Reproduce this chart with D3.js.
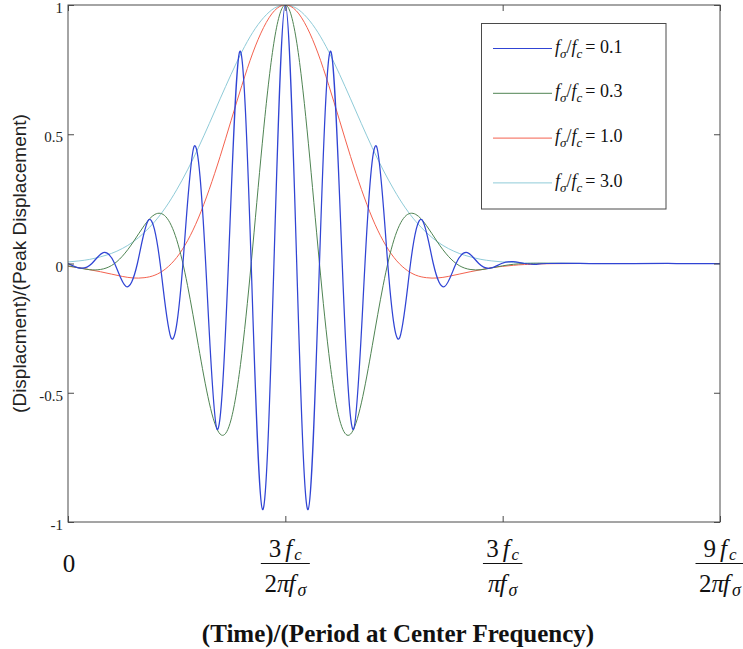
<!DOCTYPE html>
<html>
<head>
<meta charset="utf-8">
<script src="https://cdn.jsdelivr.net/npm/d3@7/dist/d3.min.js"></script>
<style>
  html, body { margin: 0; padding: 0; background: #fff; }
  svg { display: block; }
</style>
</head>
<body>
<svg id="chart" width="743" height="649"></svg>
<script>
// Time axis is in units of 3fc/(2π fσ); each pulse is centred at t = 1.

// Sample times shared by the three slower pulses.
const tSmooth = [
  0.00, 0.05, 0.10, 0.15, 0.20, 0.25, 0.30, 0.35, 0.40, 0.45,
  0.50, 0.55, 0.60, 0.65, 0.70, 0.75, 0.80, 0.85, 0.90, 0.95,
  1.00, 1.05, 1.10, 1.15, 1.20, 1.25, 1.30, 1.35, 1.40, 1.45,
  1.50, 1.55, 1.60, 1.65, 1.70, 1.75, 1.80, 1.85, 1.90, 1.95,
  2.00, 2.05, 2.10, 2.15, 2.20, 2.40, 2.60, 2.80, 3.00
];

// fσ/fc = 0.3
const pulse03 = [
  -0.009, -0.017, -0.024, -0.023, -0.008, 0.028, 0.083, 0.146, 0.190, 0.181,
   0.092, -0.085, -0.318, -0.539, -0.660, -0.605, -0.348, 0.064, 0.517, 0.868,
   1.000, 0.868, 0.517, 0.064, -0.348, -0.605, -0.660, -0.539, -0.318, -0.085,
   0.092, 0.181, 0.190, 0.146, 0.083, 0.028, -0.008, -0.023, -0.024, -0.017,
  -0.009, -0.003, 0.000, 0.001, 0.001, 0.000, 0.000, 0.000, 0.000
];

// fσ/fc = 1.0
const pulse10 = [
  -0.011, -0.016, -0.024, -0.032, -0.041, -0.050, -0.056, -0.055, -0.045, -0.020,
   0.023, 0.088, 0.176, 0.287, 0.414, 0.552, 0.689, 0.814, 0.913, 0.978,
   1.000, 0.978, 0.913, 0.814, 0.689, 0.552, 0.414, 0.287, 0.176, 0.088,
   0.023, -0.020, -0.045, -0.055, -0.056, -0.050, -0.041, -0.032, -0.024, -0.016,
  -0.011, -0.007, -0.004, -0.003, -0.001, 0.000, 0.000, 0.000, 0.000
];

// fσ/fc = 3.0
const pulse30 = [
  0.006, 0.010, 0.016, 0.026, 0.039, 0.058, 0.084, 0.119, 0.163, 0.218,
  0.285, 0.362, 0.448, 0.541, 0.637, 0.731, 0.819, 0.894, 0.951, 0.988,
  1.000, 0.988, 0.951, 0.894, 0.819, 0.731, 0.637, 0.541, 0.448, 0.362,
  0.285, 0.218, 0.163, 0.119, 0.084, 0.058, 0.039, 0.026, 0.016, 0.010,
  0.006, 0.004, 0.002, 0.001, 0.001, 0.000, 0.000, 0.000, 0.000
];

// fσ/fc = 0.1, sampled at its crests, troughs and zero crossings.
const tFast = [
  0.0000, 0.0575, 0.1099, 0.1622, 0.2146, 0.2670, 0.3193, 0.3717, 0.4240, 0.4764,
  0.5288, 0.5811, 0.6335, 0.6858, 0.7382, 0.7906, 0.8429, 0.8953, 0.9476, 1.0000,
  1.0524, 1.1047, 1.1571, 1.2094, 1.2618, 1.3142, 1.3665, 1.4189, 1.4712, 1.5236,
  1.5760, 1.6283, 1.6807, 1.7330, 1.7854, 1.8378, 1.8901, 1.9425, 1.9948, 2.0472,
  2.0995, 2.1519, 2.2043, 2.4000, 2.6000, 2.8000, 3.0000
];
const pulse01 = [
   0.000, -0.018, 0.000, 0.042, 0.000, -0.089, 0.000, 0.169, 0.000, -0.291,
   0.000, 0.454, 0.000, -0.641, 0.000, 0.821, 0.000, -0.952, 0.000, 1.000,
   0.000, -0.952, 0.000, 0.821, 0.000, -0.641, 0.000, 0.454, 0.000, -0.291,
   0.000, 0.169, 0.000, -0.089, 0.000, 0.042, 0.000, -0.018, 0.000, 0.007,
   0.000, -0.003, 0.000, 0.000, 0.000, 0.000, 0.000
];

const ratioLabels = ["0.1", "0.3", "1.0", "3.0"];
const seriesColors = ["#3044d4", "#4f8453", "#f4624f", "#8fcbd8"];

const yTicks = [-1, -0.5, 0, 0.5, 1];
const yTickLabels = ["-1", "-0.5", "0", "0.5", "1"];
const xTicks = [0, 1, 2, 3];
// Tick labels of the form  N fc / (D fσ)
const xTickNumer = ["", "3", "3", "9"];
const xTickDenom = ["", "2π", "π", "2π"];

const svg = d3.select("#chart");
const W = 743, H = 649;
const plot = { left: 68, right: 720, top: 5, bottom: 522 };

const x = d3.scaleLinear().domain([0, 3]).range([plot.left, plot.right]);
const y = d3.scaleLinear().domain([-1, 1]).range([plot.bottom, plot.top]);

const serif = "'Liberation Serif', 'Times New Roman', serif";
const sans = "'Liberation Sans', Arial, sans-serif";
const frameColor = "#4a4a4a";

svg.append("rect").attr("width", W).attr("height", H).attr("fill", "#fff");

svg.append("defs").append("clipPath").attr("id", "plotClip")
  .append("rect")
  .attr("x", plot.left).attr("y", plot.top)
  .attr("width", plot.right - plot.left).attr("height", plot.bottom - plot.top);

// Series assembled from the arrays above
const series = [
  { label: ratioLabels[0], color: seriesColors[0], width: 1.25, pts: tFast.map((t, i) => [t, pulse01[i]]) },
  { label: ratioLabels[1], color: seriesColors[1], width: 1.0, pts: tSmooth.map((t, i) => [t, pulse03[i]]) },
  { label: ratioLabels[2], color: seriesColors[2], width: 1.0, pts: tSmooth.map((t, i) => [t, pulse10[i]]) },
  { label: ratioLabels[3], color: seriesColors[3], width: 1.0, pts: tSmooth.map((t, i) => [t, pulse30[i]]) }
];

const line = d3.line()
  .x(d => x(d[0]))
  .y(d => y(d[1]))
  .curve(d3.curveNatural);

const curves = svg.append("g").attr("clip-path", "url(#plotClip)");
// lighter pulses underneath, the fast pulse drawn last
[3, 2, 1, 0].forEach(i => {
  const s = series[i];
  curves.append("path")
    .attr("d", line(s.pts))
    .attr("fill", "none")
    .attr("stroke", s.color)
    .attr("stroke-width", s.width)
    .attr("stroke-linejoin", "round");
});

// Axes: ticks pointing inward on all four sides
function styleAxis(g) {
  g.select(".domain").remove();
  g.selectAll(".tick line").attr("stroke", frameColor).attr("stroke-width", 1);
}

const leftAxis = svg.append("g")
  .attr("transform", `translate(${plot.left},0)`)
  .call(d3.axisLeft(y).tickValues(yTicks)
    .tickFormat((d, i) => yTickLabels[i])
    .tickSizeInner(-6).tickSizeOuter(0).tickPadding(5))
  .call(styleAxis);
leftAxis.selectAll(".tick text")
  .attr("font-family", serif).attr("font-size", 15)
  .attr("fill", "#222").attr("dy", "0.5em");

svg.append("g")
  .attr("transform", `translate(${plot.right},0)`)
  .call(d3.axisRight(y).tickValues(yTicks).tickFormat("")
    .tickSizeInner(-6).tickSizeOuter(0))
  .call(styleAxis);

svg.append("g")
  .attr("transform", `translate(0,${plot.bottom})`)
  .call(d3.axisBottom(x).tickValues(xTicks).tickFormat("")
    .tickSizeInner(-6).tickSizeOuter(0))
  .call(styleAxis);

svg.append("g")
  .attr("transform", `translate(0,${plot.top})`)
  .call(d3.axisTop(x).tickValues(xTicks).tickFormat("")
    .tickSizeInner(-6).tickSizeOuter(0))
  .call(styleAxis);

// Frame
svg.append("rect")
  .attr("x", plot.left).attr("y", plot.top)
  .attr("width", plot.right - plot.left).attr("height", plot.bottom - plot.top)
  .attr("fill", "none").attr("stroke", frameColor).attr("stroke-width", 1);

// X tick labels: plain zero, then stacked fractions
const xLabels = svg.append("g").attr("fill", "#111").attr("font-family", serif);
xTicks.forEach((t, i) => {
  const cx = x(t);
  if (!xTickNumer[i]) {
    xLabels.append("text")
      .attr("x", cx + 1).attr("y", 572)
      .attr("text-anchor", "middle").attr("font-size", 25)
      .text(String(t));
    return;
  }
  const g = xLabels.append("g");
  const num = g.append("text").attr("x", cx).attr("y", 557)
    .attr("text-anchor", "middle").attr("font-size", 25);
  num.append("tspan").text(xTickNumer[i]);
  num.append("tspan").attr("dx", 4).attr("font-style", "italic").text("f");
  num.append("tspan").attr("dx", 2).attr("dy", 3).attr("font-size", 17).attr("font-style", "italic").text("c");

  const den = g.append("text").attr("x", cx).attr("y", 592)
    .attr("text-anchor", "middle").attr("font-size", 25);
  const d = xTickDenom[i];
  const lead = d.replace("π", "");
  if (lead) den.append("tspan").text(lead);
  den.append("tspan").attr("font-style", "italic").text("π");
  den.append("tspan").attr("dx", -1).attr("font-style", "italic").text("f");
  den.append("tspan").attr("dx", 2).attr("dy", 4).attr("font-size", 18).attr("font-style", "italic").text("σ");

  const w = Math.max(num.node().getBBox().width, den.node().getBBox().width) + 6;
  g.append("line")
    .attr("x1", cx - w / 2).attr("x2", cx + w / 2)
    .attr("y1", 563.5).attr("y2", 563.5)
    .attr("stroke", "#111").attr("stroke-width", 1.2);
});

// Axis titles
svg.append("text")
  .attr("x", (plot.left + plot.right) / 2 + 4).attr("y", 642)
  .attr("text-anchor", "middle")
  .attr("font-family", serif).attr("font-weight", "bold").attr("font-size", 25)
  .attr("fill", "#111")
  .text("(Time)/(Period at Center Frequency)");

svg.append("text")
  .attr("transform", `translate(26,${(plot.top + plot.bottom) / 2}) rotate(-90)`)
  .attr("text-anchor", "middle")
  .attr("font-family", sans).attr("font-size", 19)
  .attr("fill", "#222")
  .text("(Displacment)/(Peak Displacement)");

// Legend
const legend = svg.append("g");
legend.append("rect")
  .attr("x", 481.5).attr("y", 23.5).attr("width", 184.5).attr("height", 185.5)
  .attr("fill", "#fff").attr("stroke", frameColor).attr("stroke-width", 1);

series.forEach((s, i) => {
  const ly = 48.5 + i * 44.8;
  legend.append("line")
    .attr("x1", 493).attr("x2", 552).attr("y1", ly).attr("y2", ly)
    .attr("stroke", s.color).attr("stroke-width", 1);
  const txt = legend.append("text")
    .attr("x", 555).attr("y", ly + 4)
    .attr("font-family", serif).attr("font-size", 18).attr("fill", "#111");
  txt.append("tspan").attr("font-style", "italic").text("f");
  txt.append("tspan").attr("dy", 5).attr("font-size", 13).attr("font-style", "italic").text("σ");
  txt.append("tspan").attr("dy", -5).text("/");
  txt.append("tspan").attr("font-style", "italic").text("f");
  txt.append("tspan").attr("dy", 5).attr("font-size", 13).attr("font-style", "italic").text("c");
  txt.append("tspan").attr("dy", -5).attr("dx", 3).text("= " + s.label);
});
</script>
</body>
</html>
